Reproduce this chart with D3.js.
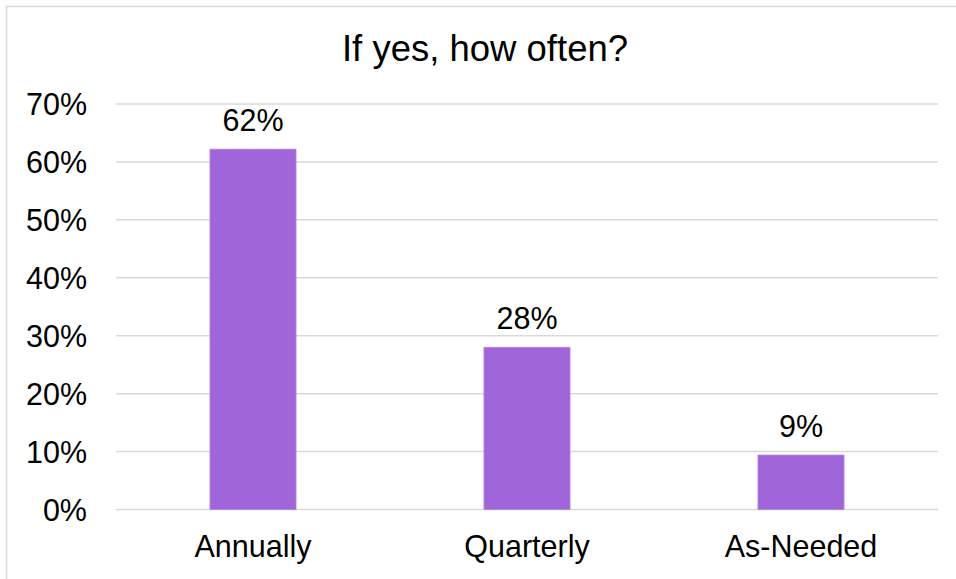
<!DOCTYPE html>
<html>
<head>
<meta charset="utf-8">
<script src="https://cdn.jsdelivr.net/npm/d3@7"></script>
<style>
  body { margin: 0; background: #fff; }
  text { font-family: "Liberation Sans", Arial, sans-serif; fill: #000; }
</style>
</head>
<body>
<div id="chart"></div>
<script>
var categories = ["Annually", "Quarterly", "As-Needed"];
var values = [0.622, 0.28, 0.094];
var valueLabels = ["62%", "28%", "9%"];
var yTicks = [0, 0.1, 0.2, 0.3, 0.4, 0.5, 0.6, 0.7];

var W = 956, H = 579;
var margin = {top: 104, right: 18, bottom: 69.5, left: 116},
    width = W - margin.left - margin.right,
    height = H - margin.top - margin.bottom;

var root = d3.select("#chart").append("svg")
    .attr("width", W)
    .attr("height", H);

// outer chart border (right/bottom fall outside the picture)
root.append("rect")
    .attr("x", 6.5).attr("y", 6.5)
    .attr("width", W + 20).attr("height", H + 20)
    .attr("fill", "none")
    .attr("stroke", "#d9d9d9")
    .attr("stroke-width", 1.5);

root.append("text")
    .attr("x", 485)
    .attr("y", 61)
    .attr("text-anchor", "middle")
    .style("font-size", "36.5px")
    .text("If yes, how often?");

var svg = root.append("g")
    .attr("transform", "translate(" + margin.left + "," + margin.top + ")");

var x = d3.scaleBand()
    .domain(categories)
    .range([0, width])
    .paddingInner(0.686)
    .paddingOuter(0.343);

var y = d3.scaleLinear()
    .domain([0, 0.7])
    .range([height, 0]);

// gridlines
svg.append("g")
    .selectAll("line")
    .data(yTicks)
    .enter()
    .append("line")
    .attr("x1", 0)
    .attr("x2", width)
    .attr("y1", function(d) { return y(d); })
    .attr("y2", function(d) { return y(d); })
    .attr("stroke", "#d9d9d9")
    .attr("stroke-width", 1.5);

// y axis labels
var yAxis = svg.append("g")
    .call(d3.axisLeft(y).tickValues(yTicks).tickFormat(d3.format(".0%")).tickSize(0).tickPadding(29));
yAxis.select(".domain").remove();
yAxis.selectAll("text")
    .style("font-size", "30.5px")
    .attr("fill", "#000")
    .attr("dy", "0.35em");

// x axis labels
var xAxis = svg.append("g")
    .attr("transform", "translate(0," + height + ")")
    .call(d3.axisBottom(x).tickSize(0).tickPadding(26));
xAxis.select(".domain").remove();
xAxis.selectAll("text")
    .style("font-size", "30.5px")
    .attr("fill", "#000");

// bars
svg.selectAll(".bar")
    .data(values)
    .enter()
    .append("rect")
    .attr("class", "bar")
    .attr("x", function(d, i) { return x(categories[i]); })
    .attr("y", function(d) { return y(d); })
    .attr("width", x.bandwidth())
    .attr("height", function(d) { return height - y(d); })
    .attr("fill", "#a066d9")
    .attr("stroke", "#b080e4")
    .attr("stroke-width", 0.8);

// value labels
svg.selectAll(".lbl")
    .data(values)
    .enter()
    .append("text")
    .attr("class", "lbl")
    .attr("x", function(d, i) { return x(categories[i]) + x.bandwidth() / 2; })
    .attr("y", function(d) { return y(d) - 18.5; })
    .attr("text-anchor", "middle")
    .style("font-size", "30.5px")
    .text(function(d, i) { return valueLabels[i]; });
</script>
</body>
</html>
